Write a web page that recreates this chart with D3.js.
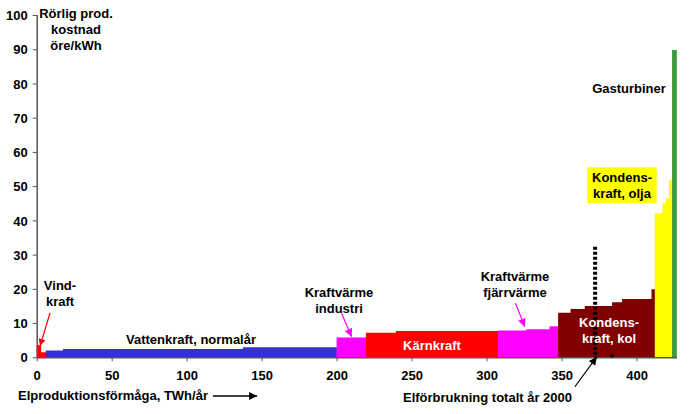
<!DOCTYPE html>
<html><head><meta charset="utf-8">
<script src="https://cdn.jsdelivr.net/npm/d3@7"></script>
<style>
body{margin:0;background:#fff;}
svg text{font-family:"Liberation Sans",Arial,sans-serif;font-weight:bold;font-size:13px;}
</style></head>
<body><svg id="c" width="691" height="414"></svg>
<script>
// Data: step edges (TWh) and variable cost (öre/kWh)
const vindEdges=[0,3,6], vindCost=[3.5,1.5];
const vattenEdges=[6,17.5,137.5,200], vattenCost=[2.0,2.4,2.9];
const kvIndEdges=[200,219.5], kvIndCost=[5.8];
const karnEdges=[219.5,239.5,307.7], karnCost=[7.2,7.7];
const kvFjEdges=[307.7,326.5,342,347.7], kvFjCost=[7.8,8.2,9.1];
const kolEdges=[347.7,356,365.5,383.7,390.4,410,412.2], kolCost=[13.0,14.1,15.0,16.1,17.0,19.9];
const oljaEdges=[412.2,417.3,419.5,421.7,423.7], oljaCost=[42.1,45.0,46.4,51.8];
const gasEdges=[423.7,426.7], gasCost=[89.8];
const yTicks=[0,10,20,30,40,50,60,70,80,90,100];
const xTicks=[0,50,100,150,200,250,300,350,400];
const forbrukning=372.4, forbrukningTop=32.3;

const series=[
 {e:vindEdges,c:vindCost,col:"#FF0000"},
 {e:vattenEdges,c:vattenCost,col:"#3333CC"},
 {e:kvIndEdges,c:kvIndCost,col:"#FF00FF"},
 {e:karnEdges,c:karnCost,col:"#FF0000"},
 {e:kvFjEdges,c:kvFjCost,col:"#FF00FF"},
 {e:kolEdges,c:kolCost,col:"#800000"},
 {e:oljaEdges,c:oljaCost,col:"#FFFF00"},
 {e:gasEdges,c:gasCost,col:"#3C9C3C"}
];

const svg=d3.select("#c");
const x=d3.scaleLinear().domain([0,427]).range([36.7,677]);
const y=d3.scaleLinear().domain([0,100]).range([357.3,15]);

const defs=svg.append("defs");
function marker(id,col,w,h){
  defs.append("marker").attr("id",id).attr("viewBox","0 0 10 10").attr("refX",10).attr("refY",5)
   .attr("markerUnits","userSpaceOnUse").attr("markerWidth",w).attr("markerHeight",h).attr("orient","auto")
   .append("path").attr("d","M0,0L10,5L0,10Z").attr("fill",col);
}
marker("ab","#000",10,8);
marker("ar","#FF0000",8,7);
marker("am","#FF00FF",9,8);

// bars as step areas (one path per series)
const area=d3.area().curve(d3.curveStepAfter).x(d=>x(d[0])).y0(y(0)).y1(d=>y(d[1]));
series.forEach(s=>{
  const pts=s.c.map((v,i)=>[s.e[i],v]);
  pts.push([s.e[s.e.length-1]+0.2,s.c[s.c.length-1]]);
  svg.append("path").datum(pts).attr("d",area).attr("fill",s.col);
});

// axes
const ya=svg.append("g").attr("transform",`translate(${x(0)},0)`)
  .call(d3.axisLeft(y).tickValues(yTicks).tickSize(4).tickPadding(5));
const xa=svg.append("g").attr("transform",`translate(0,${y(0)})`)
  .call(d3.axisBottom(x).tickValues(xTicks).tickSize(4));
[ya,xa].forEach(a=>{a.select(".domain").attr("stroke","#555").attr("stroke-width",1.5);
  a.selectAll(".tick line").attr("stroke","#555");
  a.selectAll("text").attr("fill","#000").style("font-size","13px").style("font-family","Liberation Sans, Arial, sans-serif").style("font-weight","bold");});
xa.selectAll("text").attr("dy",0).attr("y",23);
ya.selectAll("text").attr("dy","0.36em");
xa.select(".domain").attr("d",`M${x(0)},0.5H${x(427)}`);
ya.select(".domain").attr("d",`M0.5,${y(0)}V${y(100)}`);

// dotted consumption line
svg.append("line").attr("x1",x(forbrukning)).attr("x2",x(forbrukning))
  .attr("y1",y(forbrukningTop)).attr("y2",y(0)).attr("stroke","#000").attr("stroke-width",4).attr("stroke-dasharray","3,2");
svg.append("rect").attr("x",x(382.6)).attr("y",y(0)-3).attr("width",3).attr("height",3).attr("fill","#000");

// arrows (data coordinates)
function arrow(a,b,col,m,w){
  svg.append("line").attr("x1",x(a[0])).attr("y1",y(a[1])).attr("x2",x(b[0])).attr("y2",y(b[1]))
    .attr("stroke",col).attr("stroke-width",w).attr("marker-end",`url(#${m})`);
}
arrow([8.9,12.95],[2.2,3.3],"#FF0000","ar",1.2);
arrow([203.3,12.9],[210,6.0],"#FF00FF","am",1.2);
arrow([319.3,15.8],[325.5,8.9],"#FF00FF","am",1.2);
arrow([358.9,-8.6],[373.5,0.1],"#000","ab",1.2);
arrow([117.5,-11.3],[147,-11.3],"#000","ab",1.5);

// labels
function label(lines,cx,by,opts={}){
  const t=svg.append("text").attr("text-anchor",opts.anchor||"middle").attr("fill",opts.fill||"#000");
  lines.forEach((l,i)=>t.append("tspan").attr("x",cx).attr("y",by+i*16).text(l));
  return t;
}
label(["Rörlig prod.","kostnad","öre/kWh"],76,18);
label(["Vind-","kraft"],60,290);
label(["Vattenkraft, normalår"],191,344);
label(["Kraftvärme","industri"],339,297);
label(["Kärnkraft"],432,350,{fill:"#fff"});
label(["Kraftvärme","fjärrvärme"],515,281);
label(["Kondens-","kraft, kol"],609,327,{fill:"#fff"});
svg.append("rect").attr("x",587.3).attr("y",167.3).attr("width",69.4).attr("height",36).attr("fill","#FFFF00");
label(["Kondens-","kraft, olja"],622,182);
label(["Gasturbiner"],629,93);
label(["Elproduktionsförmåga, TWh/år"],18,400,{anchor:"start"});
label(["Elförbrukning totalt år 2000"],403,402,{anchor:"start"});
</script></body></html>
